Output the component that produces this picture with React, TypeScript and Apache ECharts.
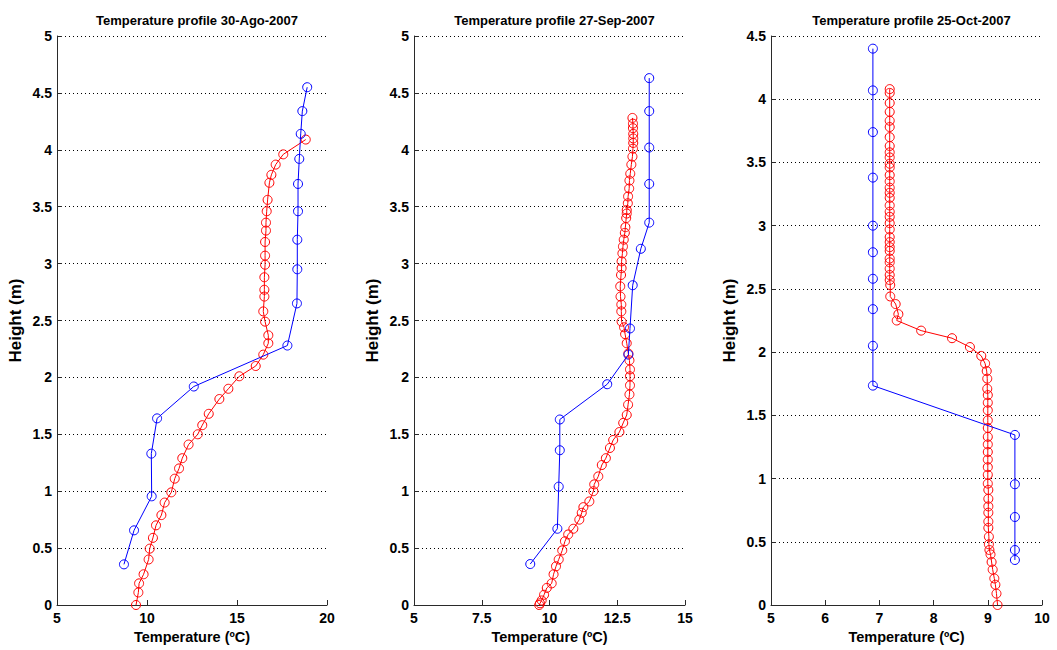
import React, { useEffect, useRef } from "react";
import * as echarts from "echarts";

// ---------- Data ----------
const titles = [
  "Temperature profile 30-Ago-2007",
  "Temperature profile 27-Sep-2007",
  "Temperature profile 25-Oct-2007",
];

// Panel 1 (30-Ago-2007)
const p1BlueT = [18.9, 18.63, 18.54, 18.46, 18.39, 18.39, 18.35, 18.35, 18.33, 17.8, 12.6, 10.56, 10.24, 10.26, 9.28, 8.72];
const p1BlueH = [4.55, 4.34, 4.14, 3.92, 3.7, 3.46, 3.21, 2.95, 2.65, 2.28, 1.92, 1.64, 1.33, 0.955, 0.656, 0.357];
const p1RedT = [18.82, 17.57, 17.15, 16.91, 16.8, 16.7, 16.65, 16.61, 16.61, 16.56, 16.56, 16.56, 16.52, 16.52, 16.52, 16.46, 16.56, 16.74, 16.74, 16.46, 16.04, 15.13, 14.52, 14.02, 13.43, 13.07, 12.82, 12.31, 11.96, 11.78, 11.54, 11.35, 10.98, 10.8, 10.5, 10.33, 10.15, 10.09, 9.81, 9.56, 9.52, 9.39];
const p1RedH = [4.09, 3.96, 3.87, 3.78, 3.71, 3.56, 3.46, 3.36, 3.29, 3.19, 3.07, 2.99, 2.88, 2.77, 2.71, 2.58, 2.49, 2.37, 2.3, 2.2, 2.1, 2.01, 1.9, 1.81, 1.68, 1.58, 1.5, 1.41, 1.29, 1.2, 1.11, 0.99, 0.9, 0.79, 0.7, 0.59, 0.495, 0.4, 0.27, 0.19, 0.11, 0.0];

// Panel 2 (27-Sep-2007)
const p2BlueT = [13.68, 13.68, 13.68, 13.68, 13.68, 13.37, 13.07, 12.97, 12.91, 12.13, 10.38, 10.38, 10.34, 10.29, 9.29];
const p2BlueH = [4.63, 4.34, 4.02, 3.7, 3.36, 3.13, 2.81, 2.43, 2.2, 1.94, 1.63, 1.36, 1.04, 0.67, 0.36];
const p2RedT = [13.06, 13.08, 13.08, 13.09, 13.09, 13.09, 13.08, 13.06, 13.02, 12.98, 12.95, 12.94, 12.9, 12.89, 12.85, 12.85, 12.83, 12.8, 12.78, 12.74, 12.71, 12.69, 12.66, 12.66, 12.64, 12.61, 12.62, 12.65, 12.65, 12.66, 12.75, 12.79, 12.85, 12.91, 12.95, 12.97, 12.97, 12.97, 12.95, 12.9, 12.85, 12.72, 12.58, 12.35, 12.23, 12.08, 11.93, 11.8, 11.65, 11.62, 11.47, 11.25, 11.19, 11.1, 10.88, 10.69, 10.57, 10.47, 10.34, 10.24, 10.15, 10.08, 9.9, 9.8, 9.71, 9.65, 9.62];
const p2RedH = [4.28, 4.23, 4.19, 4.14, 4.1, 4.06, 4.01, 3.94, 3.87, 3.79, 3.73, 3.66, 3.59, 3.53, 3.47, 3.44, 3.4, 3.32, 3.27, 3.21, 3.15, 3.09, 3.02, 2.96, 2.9, 2.8, 2.71, 2.64, 2.58, 2.49, 2.44, 2.38, 2.3, 2.21, 2.15, 2.07, 2.01, 1.93, 1.85, 1.76, 1.67, 1.6, 1.52, 1.45, 1.38, 1.29, 1.23, 1.13, 1.06, 1.0, 0.91, 0.86, 0.81, 0.75, 0.67, 0.62, 0.56, 0.48, 0.4, 0.34, 0.27, 0.19, 0.15, 0.09, 0.04, 0.015, 0.0];

// Panel 3 (25-Oct-2007)
const p3BlueT = [6.88, 6.88, 6.88, 6.88, 6.88, 6.88, 6.88, 6.88, 6.88, 6.88, 9.5, 9.5, 9.5, 9.5, 9.5];
const p3BlueH = [4.4, 4.07, 3.74, 3.38, 3.0, 2.79, 2.58, 2.34, 2.05, 1.735, 1.345, 0.955, 0.696, 0.435, 0.356];
const p3RedT = [7.19, 7.19, 7.19, 7.19, 7.19, 7.19, 7.19, 7.19, 7.19, 7.19, 7.19, 7.19, 7.19, 7.19, 7.19, 7.19, 7.19, 7.19, 7.19, 7.19, 7.19, 7.19, 7.19, 7.19, 7.19, 7.19, 7.19, 7.19, 7.19, 7.19, 7.19, 7.2, 7.2, 7.3, 7.35, 7.32, 7.77, 8.34, 8.67, 8.88, 8.95, 8.98, 8.99, 8.99, 9.0, 9.0, 9.0, 9.0, 9.0, 9.0, 9.0, 9.0, 9.0, 9.0, 9.0, 9.0, 9.01, 9.01, 9.01, 9.01, 9.01, 9.01, 9.02, 9.02, 9.03, 9.05, 9.07, 9.09, 9.12, 9.14, 9.16, 9.18];
const p3RedH = [4.08, 4.05, 3.97, 3.9, 3.83, 3.78, 3.7, 3.63, 3.58, 3.54, 3.49, 3.46, 3.4, 3.35, 3.3, 3.26, 3.22, 3.16, 3.11, 3.07, 3.02, 2.97, 2.91, 2.87, 2.83, 2.8, 2.74, 2.71, 2.66, 2.61, 2.57, 2.53, 2.44, 2.38, 2.3, 2.25, 2.17, 2.11, 2.04, 1.97, 1.91, 1.85, 1.79, 1.71, 1.66, 1.6, 1.54, 1.46, 1.4, 1.33, 1.27, 1.21, 1.15, 1.09, 1.03, 0.96, 0.91, 0.84, 0.78, 0.73, 0.66, 0.61, 0.54, 0.48, 0.435, 0.4, 0.34, 0.28, 0.21, 0.16, 0.09, 0.0];

// Axis ranges
const xMin = [5, 5, 5];
const xMax = [20, 15, 10];
const xStep = [5, 2.5, 1];
const yMax = [5, 5, 4.5];
const yStep = 0.5;

const xName = "Temperature (ºC)";
const yName = "Height (m)";

// ---------- Chart ----------
const zip = (a: number[], b: number[]) => a.map((v, i) => [v, b[i]]);

const FONT = "'Liberation Sans', Arial, sans-serif";
const AXIS_COLOR = "#2a2a2a";

export default function App() {
  const ref = useRef<HTMLDivElement>(null);

  useEffect(() => {
    if (!ref.current) return;
    const chart = echarts.init(ref.current, null, { renderer: "svg" });

    const gridLefts = [57, 414, 771];
    const gridWidths = [270, 271, 271];
    const blues = [zip(p1BlueT, p1BlueH), zip(p2BlueT, p2BlueH), zip(p3BlueT, p3BlueH)];
    const reds = [zip(p1RedT, p1RedH), zip(p2RedT, p2RedH), zip(p3RedT, p3RedH)];

    const axisCommon = {
      axisLine: { show: true, onZero: false, lineStyle: { color: AXIS_COLOR, width: 1 } },
      axisTick: { show: true, inside: true, length: 5, lineStyle: { color: AXIS_COLOR } },
      axisLabel: { color: "#000", fontFamily: FONT, fontSize: 14, fontWeight: "bold" as const },
    };

    const mkLine = (i: number, data: number[][], color: string) => ({
      type: "line",
      xAxisIndex: i,
      yAxisIndex: i,
      data,
      symbol: "none",
      lineStyle: { color, width: 1 },
      emphasis: { disabled: true },
      clip: false,
    });
    const mkMarks = (i: number, data: number[][], color: string) => ({
      type: "scatter",
      xAxisIndex: i,
      yAxisIndex: i,
      data,
      symbol: "circle",
      symbolSize: 9,
      itemStyle: { color: "rgba(255,255,255,0)", borderColor: color, borderWidth: 1, opacity: 1 },
      emphasis: { disabled: true },
      clip: false,
    });

    const option: any = {
      animation: false,
      backgroundColor: "#ffffff",
      title: titles.map((t, i) => ({
        text: t,
        left: gridLefts[i] + gridWidths[i] / 2,
        top: 9,
        textAlign: "center",
        textStyle: { fontFamily: FONT, fontSize: 13, fontWeight: "bold", color: "#000" },
      })),
      grid: gridLefts.map((l, i) => ({ left: l, top: 36, width: gridWidths[i], height: 569 })),
      xAxis: [0, 1, 2].map((i) => ({
        type: "value",
        gridIndex: i,
        min: xMin[i],
        max: xMax[i],
        interval: xStep[i],
        name: xName,
        nameLocation: "middle",
        nameGap: 20,
        nameTextStyle: { color: "#000", fontFamily: FONT, fontSize: 14.5, fontWeight: "bold" },
        ...axisCommon,
        axisLabel: { ...axisCommon.axisLabel, margin: 6 },
        splitLine: { show: false },
      })),
      yAxis: [0, 1, 2].map((i) => ({
        type: "value",
        gridIndex: i,
        min: 0,
        max: yMax[i],
        interval: yStep,
        name: yName,
        nameLocation: "middle",
        nameGap: 33,
        nameTextStyle: { color: "#000", fontFamily: FONT, fontSize: 17, fontWeight: "bold" },
        ...axisCommon,
        axisLabel: { ...axisCommon.axisLabel, margin: 5 },
        splitLine: { show: true, lineStyle: { color: "#000", width: 1, type: [1, 3] } },
      })),
      series: [0, 1, 2].flatMap((i) => [
        mkLine(i, reds[i], "#ff0000"),
        mkMarks(i, reds[i], "#ff0000"),
        mkLine(i, blues[i], "#0000ff"),
        mkMarks(i, blues[i], "#0000ff"),
      ]),
    };

    chart.setOption(option);
    return () => chart.dispose();
  }, []);

  return (
    <div
      ref={ref}
      style={{ position: "fixed", left: 0, top: 0, width: 1057, height: 650, background: "#fff" }}
    />
  );
}
